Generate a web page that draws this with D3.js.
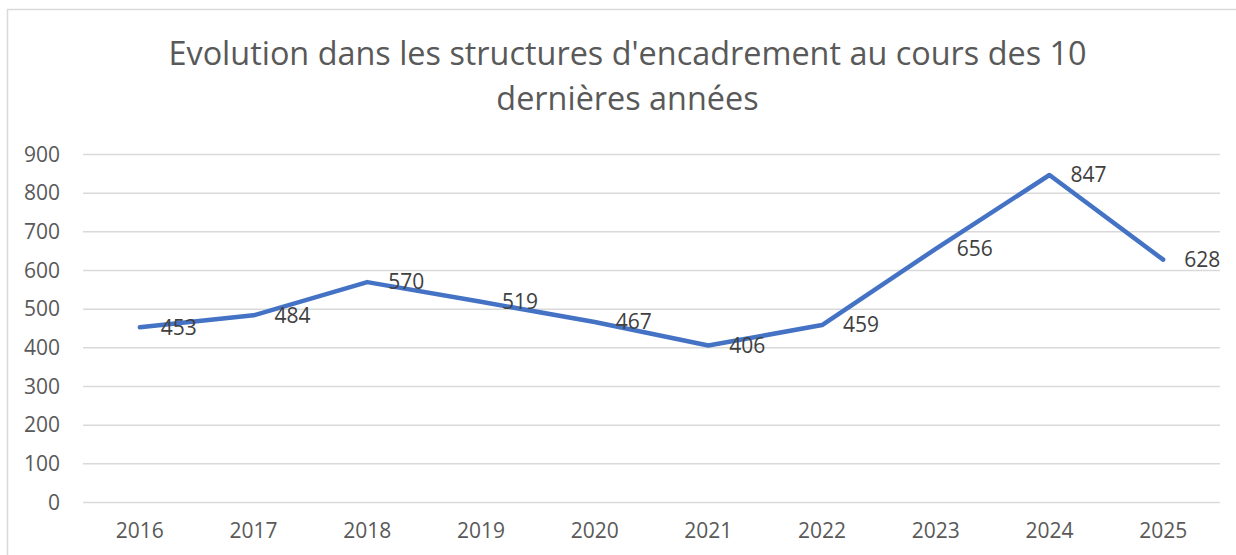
<!DOCTYPE html>
<html>
<head>
<meta charset="utf-8">
<script src="https://cdn.jsdelivr.net/npm/d3@7"></script>
<style>
  html, body { margin: 0; padding: 0; background: #fff; }
  text { font-family: 'Open Sans', 'Noto Sans', sans-serif; }
</style>
</head>
<body>
<script>
// data
var years = ['2016', '2017', '2018', '2019', '2020', '2021', '2022', '2023', '2024', '2025']
var values = [453, 484, 570, 519, 467, 406, 459, 656, 847, 628]
var yTicks = [0, 100, 200, 300, 400, 500, 600, 700, 800, 900]
var titleLines = ["Evolution dans les structures d'encadrement au cours des 10", 'dernières années']

var W = 1236, H = 555
var margin = { top: 154.5, right: 16, bottom: 52.5, left: 83 }

var svg = d3.select('body').append('svg')
  .attr('width', W)
  .attr('height', H)

// chart frame (only top/left edges are in view)
svg.append('path')
  .attr('d', 'M7.5,' + H + 'V9.5H' + W)
  .attr('fill', 'none')
  .attr('stroke', '#d9d9d9')
  .attr('stroke-width', 1.5)

var x = d3.scaleBand()
  .domain(years)
  .range([margin.left, W - margin.right])

var y = d3.scaleLinear()
  .domain([0, 900])
  .range([H - margin.bottom, margin.top])

// title
svg.append('text')
  .attr('x', 627.5)
  .attr('y', 65)
  .attr('text-anchor', 'middle')
  .attr('fill', '#595959')
  .style('font-size', '32.4px')
  .selectAll('tspan')
  .data(titleLines)
  .enter().append('tspan')
  .attr('x', 627.5)
  .attr('dy', function (d, i) { return i ? 45 : 0 })
  .text(function (d) { return d })

// grid
svg.append('g')
  .selectAll('line')
  .data(yTicks)
  .enter().append('line')
  .attr('x1', margin.left)
  .attr('x2', W - margin.right)
  .attr('y1', function (d) { return y(d) })
  .attr('y2', function (d) { return y(d) })
  .attr('stroke', '#d9d9d9')
  .attr('stroke-width', 1.5)

// y axis labels
var yAxis = svg.append('g')
  .attr('transform', 'translate(' + (margin.left - 23) + ',0)')
  .call(d3.axisLeft(y).tickValues(yTicks).tickSize(0).tickPadding(0))
yAxis.select('.domain').remove()
yAxis.selectAll('text')
  .attr('fill', '#595959')
  .style('font-size', '21px')
  .style('font-family', "'Open Sans', sans-serif")

// x axis labels
var xAxis = svg.append('g')
  .attr('transform', 'translate(0,' + (H - margin.bottom) + ')')
  .call(d3.axisBottom(x).tickSize(0).tickPadding(21))
xAxis.select('.domain').remove()
xAxis.selectAll('text')
  .attr('fill', '#595959')
  .style('font-size', '21px')
  .style('font-family', "'Open Sans', sans-serif")

// line
var line = d3.line()
  .x(function (d, i) { return x(years[i]) + x.bandwidth() / 2 })
  .y(function (d) { return y(d) })

svg.append('path')
  .datum(values)
  .attr('d', line)
  .attr('fill', 'none')
  .attr('stroke', '#4472c4')
  .attr('stroke-width', 4.5)
  .attr('stroke-linejoin', 'round')
  .attr('stroke-linecap', 'round')

// data labels, right of each point
svg.append('g')
  .selectAll('text')
  .data(values)
  .enter().append('text')
  .attr('x', function (d, i) { return x(years[i]) + x.bandwidth() / 2 + 21 })
  .attr('y', function (d) { return y(d) })
  .attr('dy', '0.35em')
  .attr('fill', '#404040')
  .style('font-size', '21px')
  .text(function (d) { return d })
</script>
</body>
</html>
